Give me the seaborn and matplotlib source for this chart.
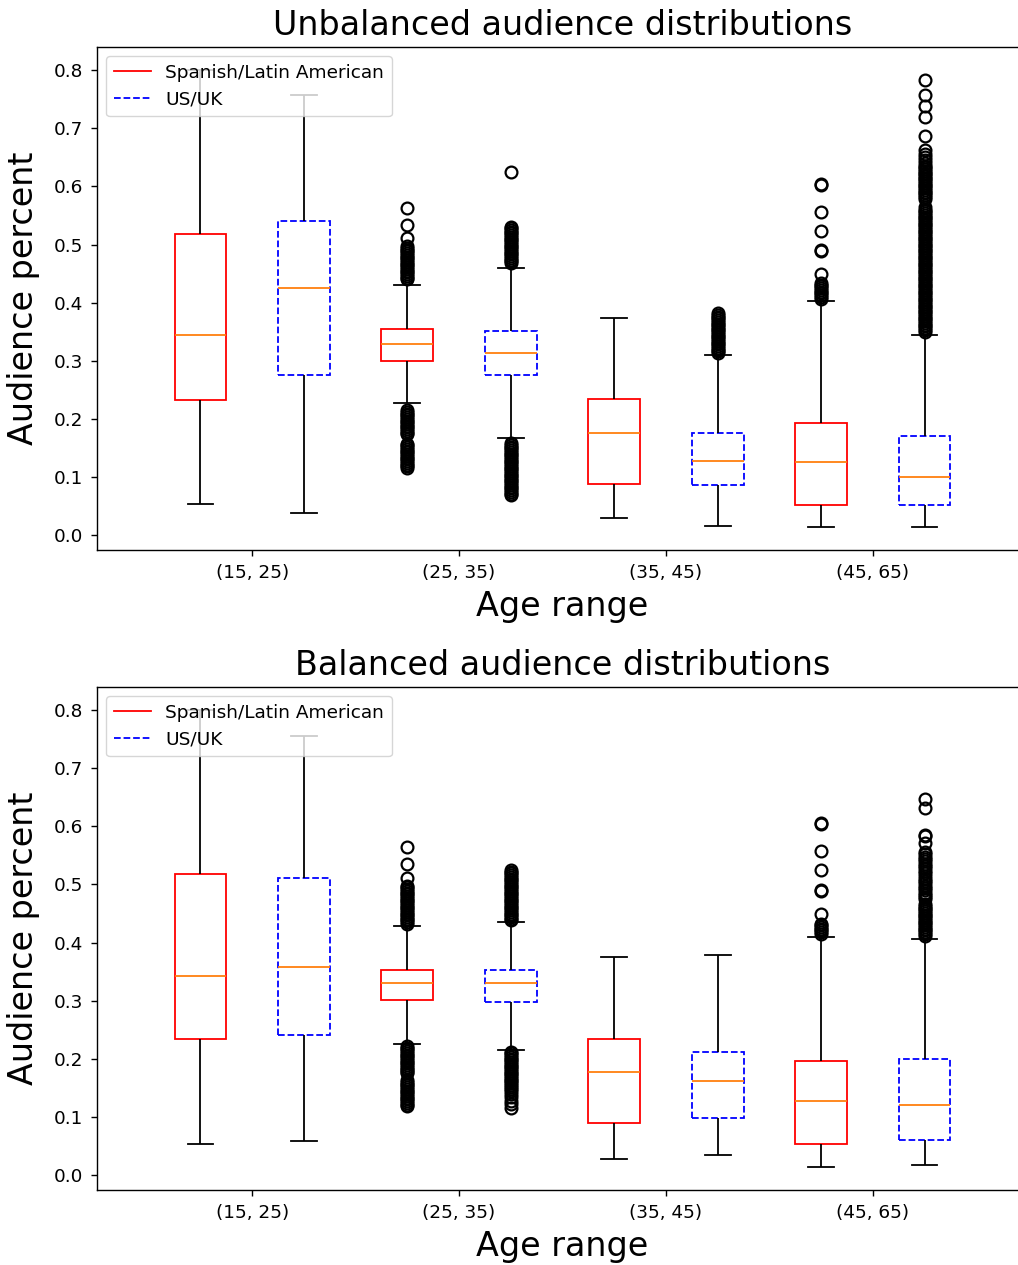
import numpy as np
import pandas as pd
import matplotlib
matplotlib.use("Agg")
import matplotlib.pyplot as plt
from matplotlib.lines import Line2D
import seaborn as sns

age_ranges = ["(15, 25)", "(25, 35)", "(35, 45)", "(45, 65)"]
groups = ["Spanish/Latin American", "US/UK"]

# Box summaries per age range: (low whisker, Q1, median, Q3, high whisker)
unbal_spanish = [(0.054, 0.233, 0.345, 0.518, 0.800),
                 (0.227, 0.300, 0.329, 0.355, 0.431),
                 (0.029, 0.087, 0.176, 0.234, 0.374),
                 (0.014, 0.051, 0.125, 0.192, 0.402)]
unbal_us = [(0.038, 0.275, 0.425, 0.540, 0.757),
            (0.167, 0.275, 0.313, 0.351, 0.460),
            (0.016, 0.086, 0.128, 0.176, 0.310),
            (0.014, 0.051, 0.099, 0.1695, 0.345)]
bal_spanish = [(0.053, 0.234, 0.343, 0.518, 0.800),
               (0.2253, 0.301, 0.3305, 0.352, 0.428),
               (0.027, 0.0885, 0.177, 0.2345, 0.375),
               (0.0144, 0.0534, 0.1264, 0.1966, 0.410)]
bal_us = [(0.0586, 0.2414, 0.3586, 0.5115, 0.755),
          (0.2155, 0.297, 0.3305, 0.3525, 0.435),
          (0.034, 0.0977, 0.161, 0.212, 0.378),
          (0.0172, 0.0603, 0.1207, 0.200, 0.4063)]

# Outlying points per age range
unbal_spanish_fliers = [
    [],
    [0.440, 0.443, 0.446, 0.449, 0.452, 0.455, 0.458, 0.461, 0.464, 0.467,
     0.470, 0.473, 0.476, 0.479, 0.482, 0.485, 0.488, 0.491, 0.494, 0.497,
     0.512, 0.534, 0.563,
     0.215, 0.212, 0.209, 0.206, 0.203, 0.200, 0.197, 0.194, 0.191, 0.188,
     0.185, 0.182, 0.179, 0.176, 0.174,
     0.157, 0.154, 0.151, 0.148, 0.145, 0.142, 0.139, 0.136, 0.133, 0.130,
     0.127, 0.124, 0.121, 0.118, 0.116],
    [],
    [0.407, 0.410, 0.413, 0.416, 0.419, 0.422, 0.425, 0.428, 0.431, 0.433,
     0.449, 0.488, 0.490, 0.523, 0.556, 0.602, 0.604],
]
unbal_us_fliers = [
    [],
    [0.468, 0.471, 0.474, 0.477, 0.480, 0.483, 0.486, 0.489, 0.492, 0.495,
     0.498, 0.501, 0.504, 0.507, 0.510, 0.513, 0.516, 0.519, 0.522, 0.525,
     0.528, 0.530, 0.625,
     0.158, 0.155, 0.152, 0.149, 0.146, 0.143, 0.140, 0.137, 0.134, 0.131,
     0.128, 0.125, 0.122, 0.119, 0.116, 0.113, 0.110, 0.107, 0.104, 0.101,
     0.098, 0.095, 0.092, 0.089, 0.086, 0.083, 0.080, 0.077, 0.074, 0.071,
     0.068],
    [0.313, 0.316, 0.319, 0.322, 0.325, 0.328, 0.331, 0.334, 0.337, 0.340,
     0.343, 0.346, 0.349, 0.352, 0.355, 0.358, 0.361, 0.364, 0.367, 0.370,
     0.373, 0.376, 0.379, 0.382],
    [0.350, 0.353, 0.356, 0.359, 0.362, 0.365, 0.368, 0.371, 0.374, 0.377,
     0.380, 0.383, 0.386, 0.389, 0.392, 0.395, 0.398, 0.401, 0.404, 0.407,
     0.410, 0.413, 0.416, 0.419, 0.422, 0.425, 0.428, 0.431, 0.434, 0.437,
     0.440, 0.443, 0.446, 0.449, 0.452, 0.455, 0.458, 0.461, 0.464, 0.467,
     0.470, 0.473, 0.476, 0.479, 0.482, 0.485, 0.488, 0.491, 0.494, 0.497,
     0.500, 0.503, 0.506, 0.509, 0.512, 0.515, 0.518, 0.521, 0.524, 0.527,
     0.530, 0.533, 0.536, 0.539, 0.542, 0.545, 0.548, 0.551, 0.554, 0.557,
     0.560, 0.564,
     0.579, 0.582, 0.585, 0.588, 0.591, 0.594, 0.597, 0.600, 0.603, 0.606,
     0.609, 0.612, 0.615, 0.618, 0.621, 0.624, 0.627, 0.630, 0.633, 0.636,
     0.640, 0.645, 0.650, 0.656, 0.662,
     0.687, 0.720, 0.738, 0.758, 0.784],
]
bal_spanish_fliers = [
    [],
    [0.432, 0.435, 0.438, 0.441, 0.444, 0.447, 0.450, 0.453, 0.456, 0.459,
     0.462, 0.465, 0.468, 0.471, 0.474, 0.477, 0.480, 0.483, 0.486, 0.489,
     0.492, 0.495, 0.498, 0.5115, 0.536, 0.565,
     0.222, 0.219, 0.216, 0.213, 0.210, 0.207, 0.204, 0.201, 0.198, 0.195,
     0.192, 0.189, 0.186, 0.183, 0.180, 0.177, 0.175,
     0.163, 0.160, 0.157, 0.154, 0.151, 0.148, 0.145, 0.142, 0.139, 0.136,
     0.133, 0.130, 0.127, 0.124, 0.121, 0.119],
    [],
    [0.415, 0.418, 0.421, 0.424, 0.427, 0.430, 0.432, 0.4495, 0.489, 0.491,
     0.525, 0.557, 0.604, 0.606],
]
bal_us_fliers = [
    [],
    [0.438, 0.441, 0.444, 0.447, 0.450, 0.453, 0.456, 0.459, 0.462, 0.465,
     0.468, 0.471, 0.474, 0.477, 0.480, 0.483, 0.486, 0.489, 0.492, 0.495,
     0.498, 0.501, 0.504, 0.507, 0.510, 0.513, 0.516, 0.519, 0.522, 0.525,
     0.212, 0.209, 0.206, 0.203, 0.200, 0.197, 0.194, 0.191, 0.188, 0.185,
     0.182, 0.179, 0.176, 0.173, 0.170, 0.167, 0.164, 0.161, 0.158, 0.155,
     0.152, 0.148, 0.144, 0.140, 0.134, 0.128, 0.122, 0.115],
    [],
    [0.412, 0.415, 0.418, 0.421, 0.424, 0.427, 0.430, 0.433, 0.436, 0.439,
     0.442, 0.445, 0.448, 0.451, 0.454, 0.457, 0.460, 0.463, 0.466,
     0.475, 0.479, 0.482, 0.486, 0.490, 0.494, 0.498, 0.502, 0.506, 0.510,
     0.514, 0.520, 0.524, 0.528, 0.532, 0.536, 0.540, 0.544, 0.548, 0.552,
     0.556, 0.571, 0.584, 0.586, 0.632, 0.648],
]


def box_sample(summary, fliers, reps=400):
    """Sample whose quartiles, whiskers and outliers equal the given summary."""
    lo, q1, med, q3, hi = summary
    return list(fliers) + [lo, hi] + [q1] * reps + [med] * reps + [q3] * reps


def build_frame(spanish, spanish_fl, us, us_fl):
    rows = []
    for grp, summaries, fliers in [(groups[0], spanish, spanish_fl),
                                   (groups[1], us, us_fl)]:
        for age, summ, fl in zip(age_ranges, summaries, fliers):
            for v in box_sample(summ, fl):
                rows.append((age, grp, v))
    return pd.DataFrame(rows, columns=["age", "group", "value"])


unbalanced = build_frame(unbal_spanish, unbal_spanish_fliers, unbal_us, unbal_us_fliers)
balanced = build_frame(bal_spanish, bal_spanish_fliers, bal_us, bal_us_fliers)

styles = {groups[0]: ("red", "-"), groups[1]: ("blue", "--")}
LW = 1.3
BIG = 24
SMALL = 13.3


def draw_panel(ax, df, title):
    for grp in groups:
        color, ls = styles[grp]
        sns.boxplot(
            data=df[df["group"] == grp], x="age", y="value", hue="group",
            order=age_ranges, hue_order=groups, dodge=True, width=1.0, gap=0.5,
            whis=1.5, fliersize=8.5, linewidth=LW, legend=False, ax=ax,
            boxprops=dict(facecolor="none", edgecolor=color, linestyle=ls, linewidth=LW),
            medianprops=dict(color="#ff7f0e", linewidth=LW),
            whiskerprops=dict(color="black", linewidth=LW),
            capprops=dict(color="black", linewidth=LW),
            flierprops=dict(marker="o", markerfacecolor="none",
                            markeredgecolor="black", markeredgewidth=1.6),
        )
    ax.set_xlim(-0.75, 3.75)
    ax.set_ylim(-0.026, 0.840)
    ax.set_yticks([0.0, 0.1, 0.2, 0.3, 0.4, 0.5, 0.6, 0.7, 0.8])
    ax.set_yticklabels(["0.0", "0.1", "0.2", "0.3", "0.4", "0.5", "0.6", "0.7", "0.8"])
    ax.tick_params(labelsize=SMALL, length=4.3, width=1.0, pad=5.5)
    ax.set_title(title, fontsize=BIG, pad=9)
    ax.set_xlabel("Age range", fontsize=BIG, labelpad=6)
    ax.set_ylabel("Audience percent", fontsize=BIG, labelpad=10)
    for sp in ax.spines.values():
        sp.set_linewidth(1.0)
    handles = [Line2D([], [], color="red", linestyle="-", linewidth=LW),
               Line2D([], [], color="blue", linestyle="--", linewidth=LW)]
    ax.legend(handles, groups, loc="upper left", fontsize=SMALL)


fig = plt.figure(figsize=(10.18, 12.65), dpi=100)
ax_top = fig.add_axes([0.0953, 0.5652, 0.9145, 0.3976])
ax_bot = fig.add_axes([0.0953, 0.0593, 0.9145, 0.3976])

draw_panel(ax_top, unbalanced, "Unbalanced audience distributions")
draw_panel(ax_bot, balanced, "Balanced audience distributions")

fig.savefig("out.png", dpi=100)
